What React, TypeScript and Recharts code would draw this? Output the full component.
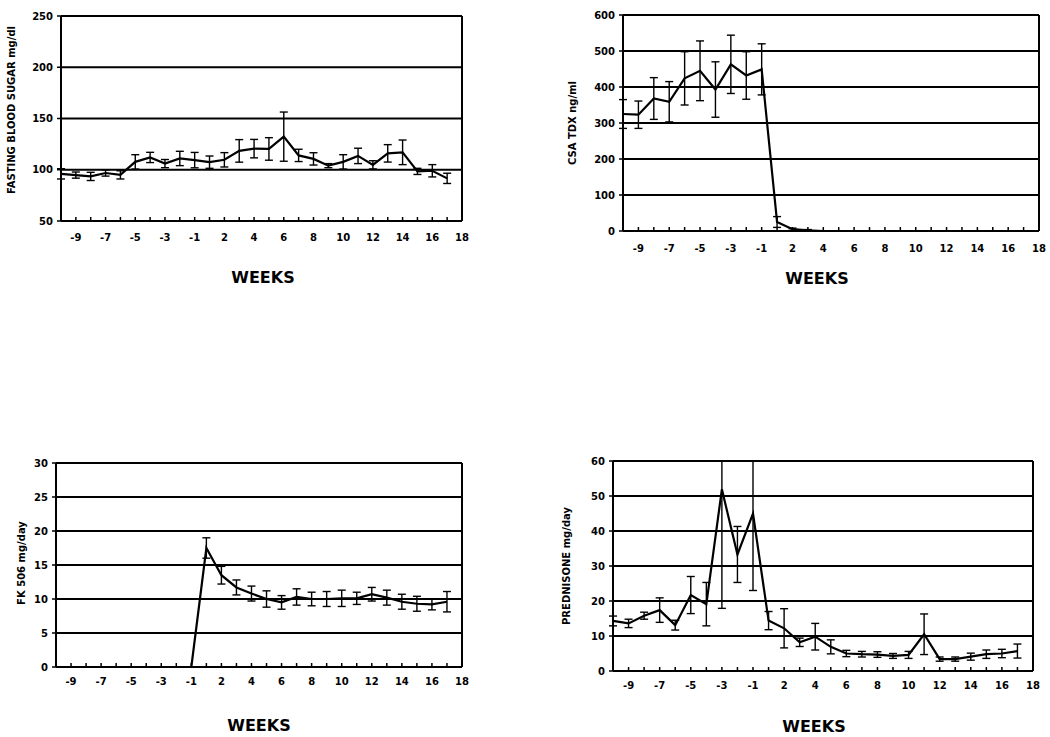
import React from "react";
import { LineChart, Line, XAxis, YAxis, CartesianGrid, ErrorBar, ReferenceLine, Label } from "recharts";

// weeks relative to conversion (no week 0)
const weeks = [-10, -9, -8, -7, -6, -5, -4, -3, -2, -1, 1, 2, 3, 4, 5, 6, 7, 8, 9, 10, 11, 12, 13, 14, 15, 16, 17, 18];

const sugarMean = [96, 94.8, 93.5, 96.8, 95, 107.7, 112, 106, 111, 109.4, 107.4, 109.7, 118.4, 120.6, 120.3, 132.3, 114, 110.6, 104, 107.7, 113.5, 104.8, 116, 117, 98.4, 99, 91.6, null];
const sugarErr = [5, 3, 4, 3, 4, 7, 5, 4, 7, 7.5, 6, 7, 11, 9, 11, 24, 6, 6, 2, 7, 7.5, 4, 8.5, 12, 3, 6, 5, null];

const csaMean = [325, 323, 368, 359, 424, 445, 393, 463, 432, 449, 25, 5, 2, 0, 0, null, null, null, null, null, null, null, null, null, null, null, null, null];
const csaErr = [40, 38, 58, 56, 74, 83, 77, 81, 66, 71, 15, 3, 2, null, null, null, null, null, null, null, null, null, null, null, null, null, null, null];

const fkMean = [null, null, null, null, null, null, null, null, null, 0, 17.5, 13.5, 11.7, 10.8, 10, 9.5, 10.3, 10, 10, 10.1, 10.1, 10.7, 10.2, 9.6, 9.3, 9.2, 9.6, null];
const fkErr = [null, null, null, null, null, null, null, null, null, null, 1.5, 1.3, 1.1, 1.1, 1.2, 1, 1.2, 1, 1.1, 1.2, 0.9, 1, 1.1, 1.1, 1.1, 0.8, 1.5, null];

// bars at -3 and -1 run off the top of the frame: [below, above] as far as visible
const predMean = [14.3, 13.6, 15.8, 17.4, 13.1, 21.7, 19.1, 51.9, 33.3, 45, 14.4, 12.2, 8.2, 9.8, 6.9, 5, 4.8, 4.7, 4.3, 4.6, 10.5, 3.4, 3.4, 4.1, 4.8, 5, 5.7, null];
const predErr = [1.4, 1.2, 1, 3.5, 1.4, 5.3, 6.2, [34, 8.1], 8, [22, 15], 2.6, 5.6, 1.2, 3.8, 2, 0.9, 0.8, 0.8, 0.7, 1, 5.8, 0.6, 0.6, 1, 1.2, 1.2, 2, null];

const sugarTicks = [50, 100, 150, 200, 250];
const csaTicks = [0, 100, 200, 300, 400, 500, 600];
const fkTicks = [0, 5, 10, 15, 20, 25, 30];
const predTicks = [0, 10, 20, 30, 40, 50, 60];

const rows = weeks.map((w, i) => ({
  week: w,
  sugar: sugarMean[i],
  sugarErr: sugarErr[i],
  csa: csaMean[i],
  csaErr: csaErr[i],
  fk: fkMean[i],
  fkErr: fkErr[i],
  pred: predMean[i],
  predErr: predErr[i],
}));

const FONT = "'DejaVu Sans', sans-serif";

const XTick = (props: any) => {
  const { x, y, payload, index, dy } = props;
  const i = index ?? payload?.index ?? 0;
  return (
    <g>
      <line x1={x} y1={y} x2={x} y2={y - 4} stroke="#000" strokeWidth={1.5} />
      {i % 2 === 1 && (
        <text x={x} y={y + dy} textAnchor="middle" dominantBaseline="central" fontFamily={FONT} fontWeight={700} fontSize={10} fill="#000">
          {payload.value}
        </text>
      )}
    </g>
  );
};

type PanelProps = {
  left: number;
  top: number;
  width: number;
  height: number;
  plot: [number, number, number, number];
  dataKey: string;
  errKey: string;
  domain: [number, number];
  ticks: number[];
  yLabel: string;
  yLabelX: number;
  yLabelY: number;
  tickDy: number;
  weeksX: number;
  weeksY: number;
};

const Panel = (p: PanelProps) => {
  const [x0, y0, x1, y1] = p.plot;
  const margin = { top: y0 - p.top, right: p.left + p.width - x1, bottom: 0, left: 0 };
  return (
    <div style={{ position: "absolute", left: p.left, top: p.top }}>
      <LineChart width={p.width} height={p.height} data={rows} margin={margin}>
        <CartesianGrid vertical={false} stroke="#000" strokeWidth={1.8} />
        <XAxis
          dataKey="week"
          interval={0}
          tickLine={false}
          tickSize={0}
          tickMargin={0}
          height={p.top + p.height - y1}
          axisLine={{ stroke: "#000", strokeWidth: 2 }}
          tick={(t: any) => <XTick {...t} dy={p.tickDy} />}
        >
          <Label
            content={() => (
              <text x={p.weeksX - p.left} y={p.weeksY - p.top} textAnchor="middle" dominantBaseline="central" fontFamily={FONT} fontWeight={700} fontSize={16} fill="#000">
                WEEKS
              </text>
            )}
          />
        </XAxis>
        <YAxis
          type="number"
          domain={p.domain}
          ticks={p.ticks}
          interval={0}
          allowDataOverflow
          width={x0 - p.left}
          tickSize={4}
          tickMargin={4}
          tickLine={{ stroke: "#000", strokeWidth: 1.5 }}
          axisLine={{ stroke: "#000", strokeWidth: 2 }}
          tick={{ fill: "#000", fontSize: 10, fontWeight: 700, fontFamily: FONT }}
        >
          <Label
            content={() => (
              <text
                x={p.yLabelX - p.left}
                y={p.yLabelY - p.top}
                transform={`rotate(-90, ${p.yLabelX - p.left}, ${p.yLabelY - p.top})`}
                textAnchor="middle"
                dominantBaseline="central"
                fontFamily={FONT}
                fontWeight={700}
                fontSize={10}
                fill="#000"
              >
                {p.yLabel}
              </text>
            )}
          />
        </YAxis>
        <ReferenceLine x={18} stroke="#000" strokeWidth={2} />
        <Line type="linear" dataKey={p.dataKey} stroke="#000" strokeWidth={2.2} dot={false} isAnimationActive={false} connectNulls={false}>
          <ErrorBar dataKey={p.errKey} width={4} stroke="#000" strokeWidth={1.4} direction="y" isAnimationActive={false} />
        </Line>
      </LineChart>
    </div>
  );
};

export default function App() {
  return (
    <div style={{ position: "absolute", left: 0, top: 0, width: 1050, height: 737, background: "#fff" }}>
      <Panel
        left={0} top={0} width={525} height={300}
        plot={[61, 16, 462, 221]}
        dataKey="sugar" errKey="sugarErr"
        domain={[50, 250]} ticks={sugarTicks}
        yLabel="FASTING BLOOD SUGAR mg/dl" yLabelX={11} yLabelY={110}
        tickDy={16} weeksX={263} weeksY={277}
      />
      <Panel
        left={525} top={0} width={525} height={300}
        plot={[623, 15, 1039, 231]}
        dataKey="csa" errKey="csaErr"
        domain={[0, 600]} ticks={csaTicks}
        yLabel="CSA TDX ng/ml" yLabelX={572} yLabelY={123}
        tickDy={17} weeksX={817} weeksY={278}
      />
      <Panel
        left={0} top={440} width={525} height={297}
        plot={[56, 463, 462, 667]}
        dataKey="fk" errKey="fkErr"
        domain={[0, 30]} ticks={fkTicks}
        yLabel="FK 506 mg/day" yLabelX={21} yLabelY={563}
        tickDy={14} weeksX={259} weeksY={725}
      />
      <Panel
        left={525} top={440} width={525} height={297}
        plot={[613, 461, 1033, 671]}
        dataKey="pred" errKey="predErr"
        domain={[0, 60]} ticks={predTicks}
        yLabel="PREDNISONE mg/day" yLabelX={566} yLabelY={566}
        tickDy={14} weeksX={814} weeksY={726}
      />
    </div>
  );
}
